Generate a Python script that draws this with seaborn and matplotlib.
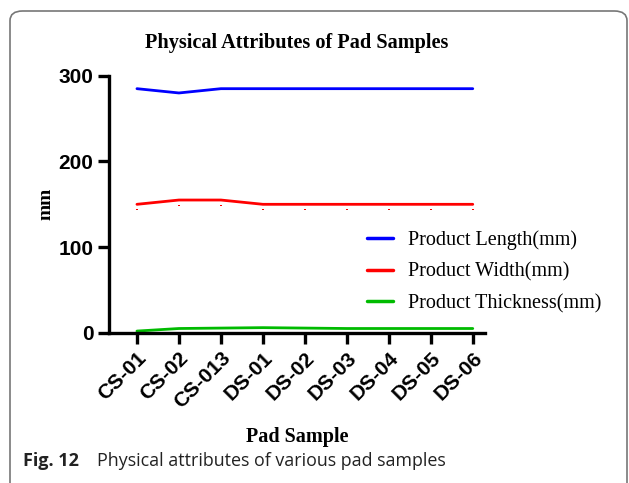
import matplotlib
matplotlib.use("Agg")
import matplotlib.pyplot as plt
import seaborn as sns
import pandas as pd
from matplotlib.patches import FancyBboxPatch

samples = ["CS-01", "CS-02", "CS-013", "DS-01", "DS-02", "DS-03", "DS-04", "DS-05", "DS-06"]
length_mm = [285, 280, 285, 285, 285, 285, 285, 285, 285]
width_mm = [150, 155, 155, 150, 150, 150, 150, 150, 150]
thickness_mm = [2, 5, 5.5, 6, 5.5, 5, 5, 5, 5]

series_names = ["Product Length(mm)", "Product Width(mm)", "Product Thickness(mm)"]
colors = ["#0000ff", "#ff0000", "#00bb00"]

df = pd.DataFrame({
    "sample": samples * 3,
    "pos": list(range(len(samples))) * 3,
    "value": length_mm + width_mm + thickness_mm,
    "series": [series_names[0]] * 9 + [series_names[1]] * 9 + [series_names[2]] * 9,
})

sns.set_style("white")
plt.rcParams["text.color"] = "black"
plt.rcParams["xtick.color"] = "black"
plt.rcParams["ytick.color"] = "black"
plt.rcParams["axes.labelcolor"] = "black"

fig = plt.figure(figsize=(6.29, 4.83), dpi=100)
ax = fig.add_axes([0.173, 0.311, 0.598, 0.532])

sns.lineplot(data=df, x="pos", y="value", hue="series", palette=colors,
             linewidth=2, ax=ax)

# tiny stray dots under the width line, as in the original
ax.plot(range(len(samples)), width_mm, linestyle="none",
        marker=[(-0.5, -3.5), (0.5, -3.5), (0.5, -4.5), (-0.5, -4.5)],
        markersize=9, color="#ff0000", markeredgewidth=0, label="_dots")

ax.set_xlim(-0.67, 8.29)
ax.set_ylim(0, 300)
ax.set_yticks([0, 100, 200, 300])
ax.set_xticks(range(len(samples)))
ax.set_xticklabels(samples, rotation=45, ha="right", rotation_mode="anchor")

for lab in ax.get_xticklabels() + ax.get_yticklabels():
    lab.set_fontfamily("Liberation Sans")
    lab.set_fontweight("bold")
    lab.set_fontsize(15)
    lab.set_color("black")

ax.tick_params(axis="both", direction="out", length=8, width=2.4, color="black",
               left=True, bottom=True, pad=3)
for side in ["top", "right"]:
    ax.spines[side].set_visible(False)
for side in ["left", "bottom"]:
    ax.spines[side].set_linewidth(2.4)
    ax.spines[side].set_color("black")

ax.set_xlabel("Pad Sample", fontfamily="Liberation Serif", fontweight="bold",
              fontsize=14.5, labelpad=11)
ax.set_ylabel("mm", fontfamily="Liberation Serif", fontweight="bold", fontsize=14,
              labelpad=3)
ax.set_title("Physical Attributes of Pad Samples", fontfamily="Liberation Serif",
             fontweight="bold", fontsize=14.6, pad=20)

leg = ax.legend(handles=ax.get_lines()[:3], labels=series_names,
                loc="upper left", bbox_to_anchor=(0.638, 0.47), frameon=False,
                prop={"family": "Liberation Serif", "size": 14.5},
                handlelength=1.3, labelspacing=0.62, handletextpad=0.75)
for line in leg.get_lines():
    line.set_linewidth(2.5)

# outer rounded frame and caption
frame = FancyBboxPatch((10 / 629, -0.05), (627 - 10) / 629, (483 - 11) / 483 + 0.05,
                       boxstyle="round,pad=0,rounding_size=0.02",
                       transform=fig.transFigure, facecolor="none",
                       edgecolor="#777777", linewidth=1.2, clip_on=False)
fig.patches.append(frame)

fig.text(23 / 629, 17 / 483, "Fig. 12", fontfamily="Open Sans", fontweight="bold",
         fontsize=13, color="#222222", va="baseline")
fig.text(97 / 629, 17 / 483, "Physical attributes of various pad samples",
         fontfamily="Open Sans", fontsize=12.9, color="#222222", va="baseline")

fig.savefig("out.png", dpi=100)
